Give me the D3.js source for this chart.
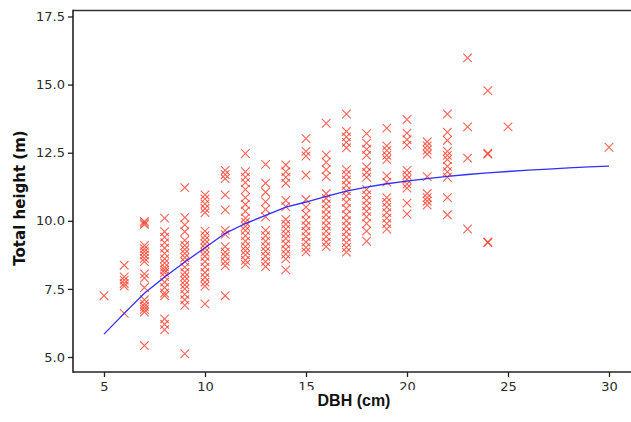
<!DOCTYPE html>
<html>
<head>
<meta charset="utf-8">
<script src="https://cdn.jsdelivr.net/npm/d3@7"></script>
<style>
    body { margin: 0; background: #fff; }
    .tick text { font-family: "DejaVu Sans", sans-serif; font-size: 13px; fill: #2a2a2a; }
    .axisTitle { font-family: "Liberation Sans", Arial, sans-serif; font-weight: bold; fill: #111; }
</style>
</head>
<body>
<script>
(function() {

//dbh classes (cm) and the heights (m) measured in each one
    var dbhClasses = [5, 6, 7, 8, 9, 10, 11, 12, 13, 14, 15, 16, 17, 18, 19, 20, 21, 22, 23, 24, 25, 30];
    var heightsByDbh = [
        [7.25],
        [8.37, 7.94, 7.82, 7.7, 7.6, 6.6],
        [9.98, 9.92, 9.86, 9.1, 8.98, 8.87, 8.75, 8.62, 8.5, 8.05, 7.9, 7.55, 7.1, 6.95, 6.85, 6.75, 6.65, 5.42],
        [10.1, 9.6, 9.4, 9.2, 9.0, 8.8, 8.6, 8.45, 8.3, 8.2, 8.1, 7.95, 7.75, 7.55, 7.35, 7.25, 6.4, 6.2, 6.0],
        [11.22, 10.12, 9.85, 9.6, 9.28, 9.1, 8.95, 8.8, 8.65, 8.5, 8.3, 8.1, 7.95, 7.8, 7.65, 7.5, 7.3, 7.1, 6.9, 5.12],
        [10.95, 10.8, 10.62, 10.45, 10.3, 9.62, 9.45, 9.3, 9.15, 9.0, 8.85, 8.7, 8.5, 8.3, 8.1, 7.92, 7.75, 7.6, 6.95],
        [11.85, 11.7, 11.55, 10.95, 10.4, 9.65, 9.5, 9.05, 8.85, 8.7, 8.5, 8.35, 7.25],
        [12.47, 11.8, 11.6, 11.4, 11.15, 10.85, 10.6, 10.35, 10.1, 9.95, 9.8, 9.65, 9.45, 9.25, 9.05, 8.9, 8.75, 8.55, 8.4],
        [12.07, 11.38, 11.05, 10.7, 10.42, 10.15, 9.65, 9.45, 9.25, 9.05, 8.88, 8.7, 8.5, 8.32],
        [12.05, 11.8, 11.6, 11.38, 10.75, 10.52, 10.05, 9.88, 9.7, 9.52, 9.35, 9.15, 8.95, 8.78, 8.6, 8.2],
        [13.02, 12.55, 12.38, 11.68, 10.78, 10.5, 10.25, 10.02, 9.82, 9.62, 9.42, 9.22, 9.02, 8.86],
        [13.58, 12.42, 12.15, 11.88, 11.62, 11.0, 10.82, 10.62, 10.42, 10.22, 10.02, 9.82, 9.62, 9.42, 9.22, 9.05],
        [13.92, 13.28, 13.08, 12.88, 12.68, 11.88, 11.7, 11.5, 11.3, 11.1, 10.9, 10.68, 10.45, 10.22, 10.0, 9.8, 9.6, 9.4, 9.2, 9.02, 8.85],
        [13.2, 12.85, 12.62, 12.4, 11.98, 11.78, 11.6, 11.15, 10.95, 10.75, 10.55, 10.35, 10.15, 9.9, 9.62, 9.25],
        [13.4, 12.75, 12.58, 12.4, 12.25, 11.65, 11.42, 10.85, 10.68, 10.5, 10.3, 10.1, 9.9, 9.7],
        [13.72, 13.22, 12.98, 12.78, 11.85, 11.68, 11.52, 11.35, 11.2, 10.65, 10.25],
        [12.9, 12.75, 12.6, 12.45, 11.62, 11.0, 10.85, 10.72, 10.58],
        [13.92, 13.25, 12.95, 12.55, 12.4, 12.25, 12.0, 11.8, 11.6, 10.85, 10.22],
        [15.98, 13.45, 12.3, 9.7],
        [14.78, 12.48, 12.45, 9.22, 9.2],
        [13.45],
        [12.7]
    ];

//fitted height curve
    var curveDbh = [5, 6, 7, 8, 9, 10, 11, 12, 13, 14, 15, 16, 17, 18, 19, 20, 21, 22, 23, 24, 25, 26, 27, 28, 29, 30];
    var curveHeight = [5.84, 6.6, 7.34, 7.94, 8.49, 9.01, 9.54, 9.9, 10.2, 10.5, 10.69, 10.9, 11.09, 11.24, 11.36, 11.46,
        11.55, 11.63, 11.7, 11.76, 11.81, 11.86, 11.9, 11.94, 11.98, 12.01];

//tick values
    var xTicks = [5, 10, 15, 20, 25, 30];
    var yTicks = [5.0, 7.5, 10.0, 12.5, 15.0, 17.5];

//frame
    var width = 631,
        height = 422,
        frameLeft = 73,
        frameTop = 10.5,
        frameBottom = 372;

    var x = d3.scaleLinear().domain([5, 30]).range([104, 609]);
    var y = d3.scaleLinear().domain([5, 17.5]).range([357, 16.5]);

    var svg = d3.select("body")
        .append("svg")
        .attr("width", width)
        .attr("height", height);

    //flatten the columns into points
    var points = [];
    dbhClasses.forEach(function(d, i) {
        heightsByDbh[i].forEach(function(h) {
            points.push({ dbh: d, h: h });
        });
    });

    //scatter of crosses
    var r = 4.3;
    svg.append("g")
        .selectAll("path")
        .data(points)
        .enter()
        .append("path")
        .attr("d", function(d) {
            var cx = x(d.dbh), cy = y(d.h);
            return "M" + (cx - r) + "," + (cy - r) + "L" + (cx + r) + "," + (cy + r) +
                "M" + (cx - r) + "," + (cy + r) + "L" + (cx + r) + "," + (cy - r);
        })
        .attr("stroke", "#ff3b2b")
        .attr("stroke-opacity", 0.8)
        .attr("stroke-width", 1.1)
        .attr("fill", "none");

    //fitted curve
    var line = d3.line()
        .x(function(d, i) { return x(curveDbh[i]); })
        .y(function(d) { return y(d); });

    svg.append("path")
        .datum(curveHeight)
        .attr("d", line)
        .attr("fill", "none")
        .attr("stroke", "#2f2fff")
        .attr("stroke-width", 1.3);

    //axes
    var xAxis = d3.axisBottom(x)
        .tickValues(xTicks)
        .tickSize(5)
        .tickPadding(5)
        .tickFormat(d3.format("d"));

    svg.append("g")
        .attr("class", "axis")
        .attr("transform", "translate(0," + frameBottom + ")")
        .call(xAxis)
        .call(function(g) { g.select(".domain").remove(); });

    var yAxis = d3.axisLeft(y)
        .tickValues(yTicks)
        .tickSize(5)
        .tickPadding(3)
        .tickFormat(d3.format(".1f"));

    svg.append("g")
        .attr("class", "axis")
        .attr("transform", "translate(" + frameLeft + ",0)")
        .call(yAxis)
        .call(function(g) { g.select(".domain").remove(); });

    svg.selectAll(".tick line").attr("stroke", "#222").attr("stroke-width", 1.3);

    //frame lines
    svg.append("line")
        .attr("x1", frameLeft).attr("x2", width)
        .attr("y1", frameTop).attr("y2", frameTop)
        .attr("stroke", "#333").attr("stroke-width", 1.6);
    svg.append("line")
        .attr("x1", frameLeft).attr("x2", frameLeft)
        .attr("y1", frameTop - 0.8).attr("y2", frameBottom + 0.8)
        .attr("stroke", "#222").attr("stroke-width", 1.6);
    svg.append("line")
        .attr("x1", frameLeft).attr("x2", width)
        .attr("y1", frameBottom).attr("y2", frameBottom)
        .attr("stroke", "#222").attr("stroke-width", 1.6);

    //x title sits on a white box that clips the 15 and 20 labels
    svg.append("rect")
        .attr("x", x(14.5)).attr("y", 390)
        .attr("width", x(20.5) - x(14.5)).attr("height", height - 390)
        .attr("fill", "#fff");

    svg.append("text")
        .attr("class", "axisTitle")
        .attr("x", 354)
        .attr("y", 406)
        .attr("text-anchor", "middle")
        .style("font-size", "16px")
        .text("DBH (cm)");

    svg.append("text")
        .attr("class", "axisTitle")
        .attr("transform", "translate(25,198) rotate(-90)")
        .attr("text-anchor", "middle")
        .style("font-family", "'DejaVu Sans', sans-serif")
        .style("font-size", "15px")
        .text("Total height (m)");

})();
</script>
</body>
</html>
